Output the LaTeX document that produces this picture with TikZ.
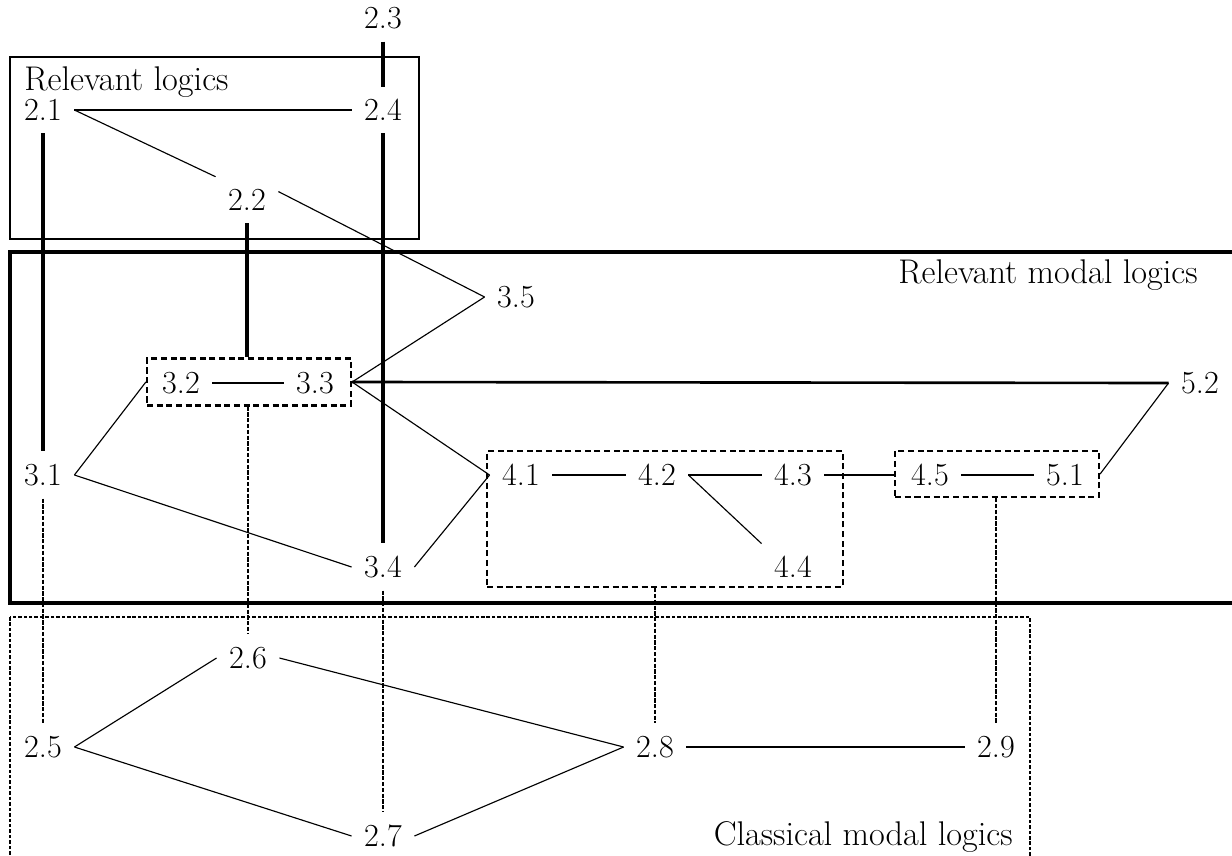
\documentclass[tikz,border=0pt]{standalone}
\usepackage{tikz}
\usetikzlibrary{positioning,calc}

\begin{document}
\begin{tikzpicture}[x=0.02cm, y=-0.02cm,
    every node/.style={font=\fontsize{18.3}{22}\selectfont, inner sep=7pt},
    strong/.style={line width=1.5pt},
    vstrong/.style={line width=1.9pt},
    weak/.style={line width=0.65pt},
    crosslink/.style={line width=1.7pt, dash pattern=on 2.4pt off 0.9pt},
    groupbox/.style={draw, line width=1.3pt, dash pattern=on 3.5pt off 2pt, inner sep=0pt},
    boxtitle/.style={inner sep=0pt, font=\fontsize{19.5}{23}\selectfont}]
    \clip (0,0) rectangle (1232,856);

    % Relevant logics
    \draw[line width=1.3pt] (10,57) rectangle (419,239);
    \node[boxtitle, anchor=base west] (trel) at (24,90) {Relevant logics};
    \node (n23) at (383,18) {2.3};
    \node (n21) at (43,110) {2.1};
    \node (n24) at (383,110) {2.4};
    \node (n22) at (247,200) {2.2};
    \draw[vstrong] (n23) -- (n24);
    \draw[strong] (n21) -- (n24);
    \draw[weak] (n21.east) -- (n22.north west);

    % Relevant modal logics
    \draw[line width=1.9pt] (10,252) rectangle (1260,603);
    \node[boxtitle, anchor=base east] (trml) at (1198,283) {Relevant modal logics};
    \node (n35) at (516,297) {3.5};
    \node (n32) at (181,383) {3.2};
    \node (n33) at (315,383) {3.3};
    \node[groupbox, minimum width=4.08cm, minimum height=0.94cm] (g32) at (249,382) {};
    \node (n52) at (1200,383) {5.2};
    \node (n31) at (43,475) {3.1};
    \node (n41) at (521,475) {4.1};
    \node (n42) at (657,475) {4.2};
    \node (n43) at (793,475) {4.3};
    \node (n44) at (793,567) {4.4};
    \node[groupbox, minimum width=7.12cm, minimum height=2.72cm] (g4) at (665,519) {};
    \node (n45) at (930,475) {4.5};
    \node (n51) at (1065,475) {5.1};
    \node[groupbox, minimum width=4.08cm, minimum height=0.92cm] (g45) at (997,474) {};
    \node (n34) at (383,567) {3.4};

    \draw[vstrong] (n21) -- (n31);
    \draw[vstrong] (n24) -- (n34);
    \draw[vstrong] (n22.south) -- (n22.south |- g32.north);
    \draw[weak] (n22.15) -- (n35.west);
    \draw[strong] (n32) -- (n33);
    \draw[weak] (g32.east) -- (n35.west);
    \draw[strong] (g32.east) -- (n52.west);
    \draw[weak] (g32.east) -- (n41.west);
    \draw[weak] (n31.east) -- (g32.west);
    \draw[weak] (n31.east) -- (n34.west);
    \draw[weak] (n34.east) -- (n41.west);
    \draw[strong] (n41) -- (n42);
    \draw[strong] (n42) -- (n43);
    \draw[weak] (n42.east) -- (n44.north west);
    \draw[strong] (n43.east) -- (n43.east -| g45.west);
    \draw[strong] (n45) -- (n51);
    \draw[weak] (g45.east) -- (n52.west);

    % Classical modal logics
    \draw[line width=1pt, dash pattern=on 2pt off 1.1pt] (10,617) rectangle (1030,880);
    \node[boxtitle, anchor=base east] (tcml) at (1013,845) {Classical modal logics};
    \node (n26) at (248,658) {2.6};
    \node (n25) at (43,747) {2.5};
    \node (n28) at (655,747) {2.8};
    \node (n29) at (996,747) {2.9};
    \node (n27) at (383,836) {2.7};

    \draw[crosslink] (n31) -- (n25);
    \draw[crosslink] (n26.north |- g32.south) -- (n26.north);
    \draw[crosslink] (n34) -- (n27);
    \draw[crosslink] (n28.north |- g4.south) -- (n28.north);
    \draw[crosslink, line width=1.1pt] (n29.north |- g45.south) -- (n29.north);

    \draw[weak] (n25.east) -- (n26.west);
    \draw[weak] (n25.east) -- (n27.west);
    \draw[weak] (n26.east) -- (n28.west);
    \draw[weak] (n27.east) -- (n28.west);
    \draw[strong] (n28) -- (n29);
\end{tikzpicture}
\end{document}
